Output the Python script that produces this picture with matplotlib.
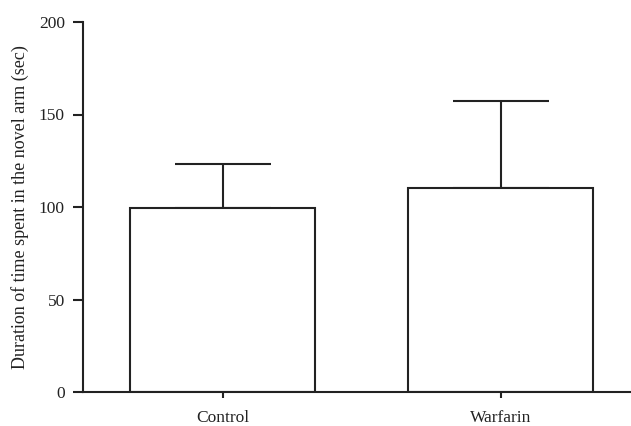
import matplotlib
matplotlib.use("Agg")
import matplotlib.pyplot as plt

categories = ["Control", "Warfarin"]
means = [99.6, 110.1]
errors = [23.6, 47.2]
yticks = [0, 50, 100, 150, 200]

plt.rcParams['font.family'] = ['Liberation Serif', 'DejaVu Serif']
fig = plt.figure(figsize=(6.31, 4.26), dpi=100)
ax = fig.add_axes([83/631, 34/426, 1 - 83/631, 370/426])
lc = '#222222'
x = list(range(len(categories)))
ax.bar(x, means, width=0.665, color='white', edgecolor=lc, linewidth=1.5, zorder=2)
ax.errorbar(x, means, yerr=[[0]*len(errors), errors], fmt='none', ecolor=lc,
            elinewidth=1.5, capsize=34.6, capthick=1.5, zorder=1)
ax.set_xlim(-0.5025, 1.469)
ax.set_ylim(0, 200)
ax.set_yticks(yticks)
ax.set_xticks(x)
ax.set_xticklabels(categories)
for s in ['top', 'right']:
    ax.spines[s].set_visible(False)
for s in ['left', 'bottom']:
    ax.spines[s].set_linewidth(1.5)
    ax.spines[s].set_color(lc)
ax.tick_params(axis='y', length=7, width=1.5, color=lc, labelsize=12.5, pad=6)
ax.tick_params(axis='x', length=4, width=1.5, color=lc, labelsize=12.5, pad=9)
ax.set_ylabel("Duration of time spent in the novel arm (sec)", fontsize=13, labelpad=7, color='#222222')
for t in ax.get_xticklabels() + ax.get_yticklabels():
    t.set_color('#222222')
fig.savefig("out.png", dpi=100)
